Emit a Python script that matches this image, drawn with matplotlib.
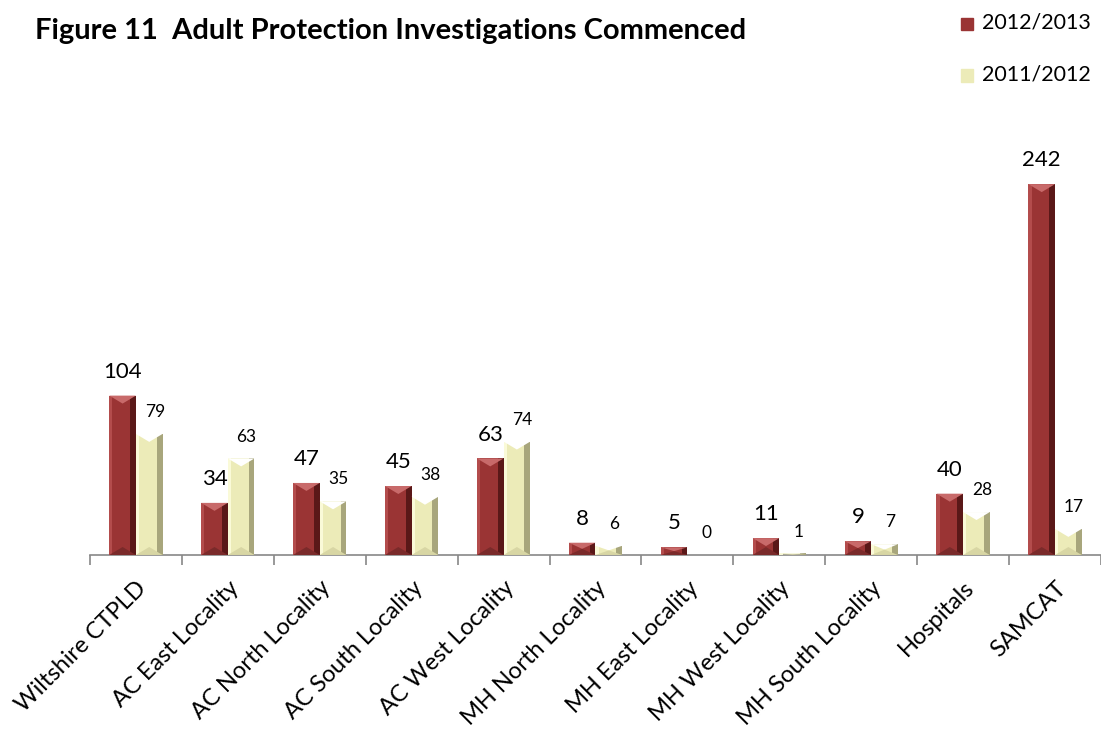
import numpy as np
import matplotlib
matplotlib.use('Agg')
import matplotlib.pyplot as plt
from matplotlib.patches import Polygon, Rectangle

plt.rcParams['font.family'] = ['Lato', 'DejaVu Sans']

# categories and values
categories = ['Wiltshire CTPLD', 'AC East Locality', 'AC North Locality',
              'AC South Locality', 'AC West Locality', 'MH North Locality',
              'MH East Locality', 'MH West Locality', 'MH South Locality',
              'Hospitals', 'SAMCAT']
y2013 = [104, 34, 47, 45, 63, 8, 5, 11, 9, 40, 242]
y2012 = [79, 63, 35, 38, 74, 6, 0, 1, 7, 28, 17]

red = {'main': '#9a3434', 'light': '#b34c4c', 'top': '#c86a6a',
       'dark': '#5a1818', 'bottom': '#7a2a2a'}
cream = {'main': '#ecebb8', 'light': '#fafad8', 'top': '#ffffff',
         'dark': '#a8a67c', 'bottom': '#d8d6a4'}


def bevel_bars(ax, xs, hs, w, col, d):
    # plain bars first, then fake the bevel on top of each one
    ax.bar(xs, hs, w, color=col['main'], linewidth=0, zorder=2)
    for x, h in zip(xs, hs):
        if h <= 0:
            continue
        x0, x1 = x - w / 2, x + w / 2
        dd = min(d, h / 2)
        ax.add_patch(Rectangle((x0, 0), w * 0.12, h, color=col['light'], lw=0, zorder=3))
        ax.add_patch(Rectangle((x1 - w * 0.22, 0), w * 0.22, h, color=col['dark'], lw=0, zorder=3))
        ax.add_patch(Polygon([(x0, h), (x1, h), (x, h - dd)], color=col['top'], lw=0, zorder=4))
        ax.add_patch(Polygon([(x0, 0), (x1, 0), (x, dd)], color=col['bottom'], lw=0, zorder=4))


fig = plt.figure(figsize=(11.01, 7.31), dpi=100)
ax = fig.add_axes([0.0817, 0.2408, 0.9183, 0.566])

x = np.arange(len(categories))
w = 0.29
bevel_bars(ax, x - w / 2, y2013, w, red, 5.2)
bevel_bars(ax, x + w / 2, y2012, w, cream, 5.2)

for xi, v in zip(x, y2013):
    ax.annotate(str(v), (xi - w / 2, v), xytext=(0, 10), textcoords='offset points',
                ha='center', va='bottom', fontsize=16)
for xi, v in zip(x, y2012):
    ax.annotate(str(v), (xi + w / 2 + 0.06, v), xytext=(0, 10), textcoords='offset points',
                ha='center', va='bottom', fontsize=12.5)

ax.set_xlim(-0.5, len(categories) - 0.5)
ax.set_ylim(0, 270)
for s in ['top', 'right', 'left']:
    ax.spines[s].set_visible(False)
ax.spines['bottom'].set_color('#888888')
ax.spines['bottom'].set_linewidth(1.2)
ax.set_yticks([])
ax.set_xticks(np.arange(len(categories) + 1) - 0.5)
ax.set_xticklabels([])
ax.tick_params(axis='x', direction='out', length=7, color='#888888', width=1.2)
ax.set_xticks(x, minor=True)
ax.set_xticklabels(categories, minor=True, rotation=45, ha='right',
                   rotation_mode='anchor', fontsize=17)
ax.tick_params(axis='x', which='minor', length=0, pad=16)

fig.text(0.032, 0.958, 'Figure 11  Adult Protection Investigations Commenced',
         fontsize=21, fontweight='bold', va='center', ha='left')

# legend
for yy, col, lab in [(0.969, red, '2012/2013'), (0.898, cream, '2011/2012')]:
    fig.patches.append(Rectangle((0.8725, yy - 0.010), 0.011, 0.017, color=col['main'],
                                 transform=fig.transFigure, figure=fig))
    fig.text(0.8915, yy, lab, fontsize=15.5, va='center', ha='left')

fig.savefig('out.png', dpi=100)
